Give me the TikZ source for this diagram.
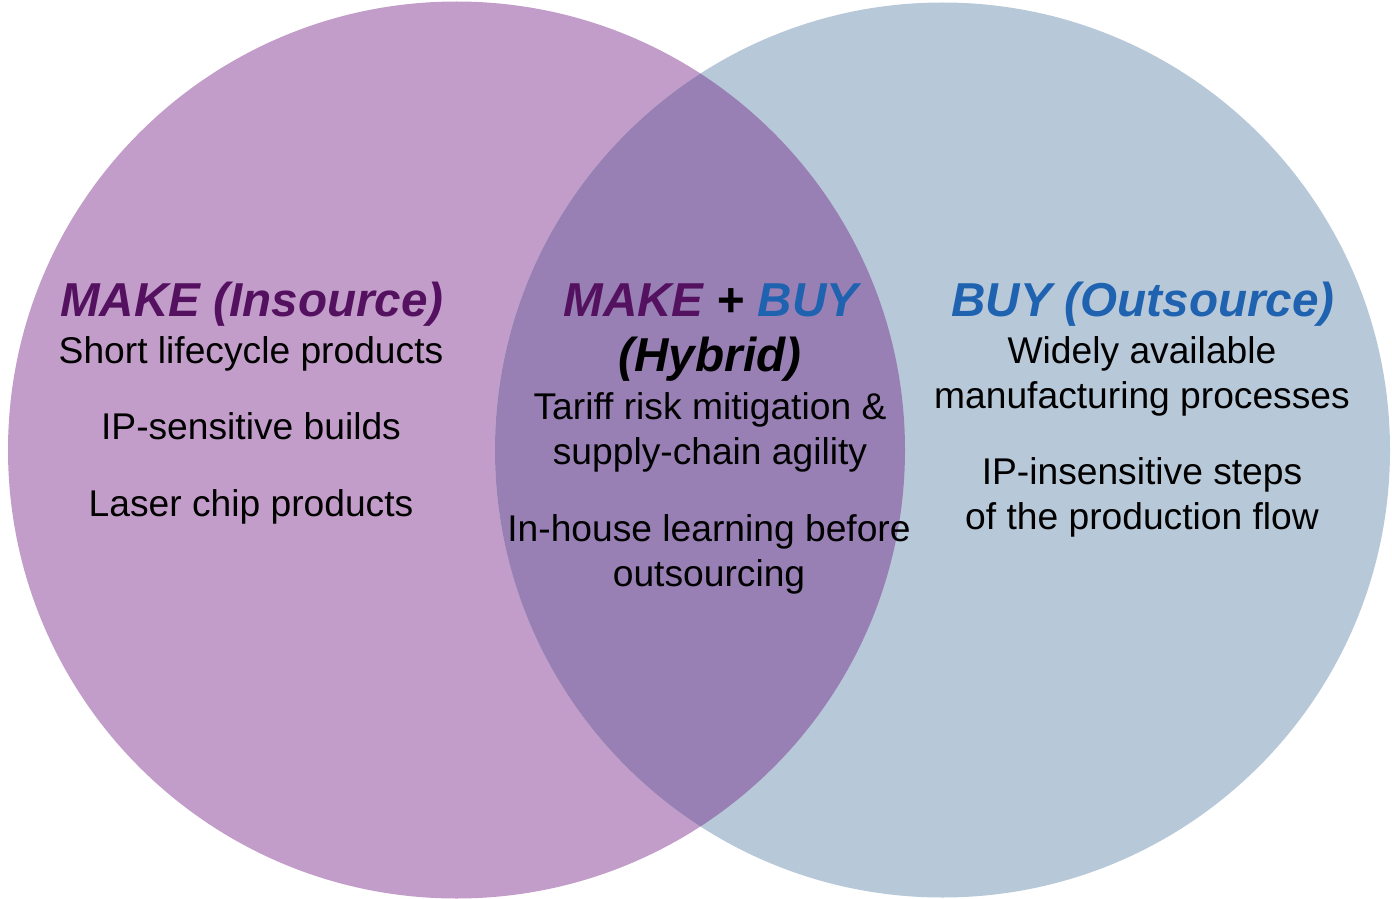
\documentclass[tikz,border=0pt]{standalone}
\usepackage{fontspec}
\setmainfont{Liberation Sans}
\definecolor{makefill}{RGB}{195,157,201}
\definecolor{buyfill}{RGB}{183,200,217}
\definecolor{bothfill}{RGB}{152,127,180}
\definecolor{makehead}{RGB}{84,17,96}
\definecolor{buyhead}{RGB}{31,98,176}
\tikzset{
  head/.style={font=\fontsize{23.8}{28}\selectfont\bfseries\itshape, anchor=base, align=center, inner sep=0pt},
  item/.style={font=\fontsize{18.6}{22.4}\selectfont, anchor=base, align=center, inner sep=0pt}
}
\begin{document}
\begin{tikzpicture}[x=0.5pt,y=0.5pt,yscale=-1]
\useasboundingbox (0,0) rectangle (1392,899);

%Shape: Circle [left]
\fill [makefill] (456.5,450) circle [radius=448.5];
%Shape: Circle [right]
\fill [buyfill] (942.5,450) circle [radius=447.5];
%Shape: Lens [overlap]
\begin{scope}
\clip (456.5,450) circle [radius=448.5];
\fill [bothfill] (942.5,450) circle [radius=447.5];
\end{scope}

% Text Node
\node [head, text=makehead] (makehd) at (252,316) {MAKE (Insource)};
% Text Node
\node [item] (short) at (251,363) {Short lifecycle products};
% Text Node
\node [item] (ipsens) at (251,439) {IP-sensitive builds};
% Text Node
\node [item] (laser) at (251,516) {Laser chip products};

% Text Node
\node [head] (hybhd) at (711,316) {\textcolor{makehead}{MAKE} + \textcolor{buyhead}{BUY}};
% Text Node
\node [head] (hybrid) at (710,371) {(Hybrid)};
% Text Node (base = last line)
\node [item] (tariff) at (710,464) {Tariff risk mitigation \&\\supply-chain agility};
% Text Node
\node [item] (inhouse) at (709,586) {In-house learning before\\outsourcing};

% Text Node
\node [head, text=buyhead] (buyhd) at (1143,316) {BUY (Outsource)};
% Text Node
\node [item] (widely) at (1142,408) {Widely available\\manufacturing processes};
% Text Node
\node [item] (ipinsens) at (1142,529) {IP-insensitive steps\\of the production flow};

\end{tikzpicture}
\end{document}
